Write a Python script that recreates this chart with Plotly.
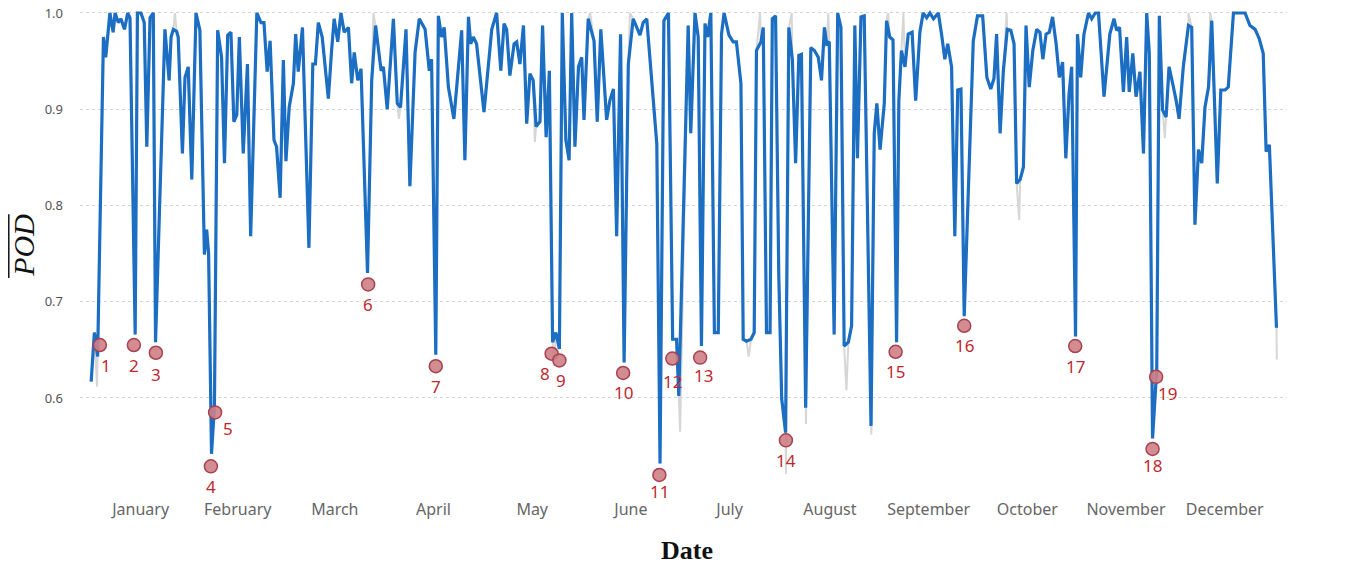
import pandas as pd
import plotly.graph_objects as go

# ---- data -----------------------------------------------------------------
# smoothed daily POD (day of year, value)
pod_days = [
    0.2, 1.2, 2.2, 4.0, 4.7, 5.5, 6.0, 7.0, 7.6, 8.6, 9.4, 10.5, 11.5, 12.2, 13.8,
    14.5, 15.6, 16.6, 17.4, 18.4, 19.4, 20.1, 23.0, 24.3, 24.9, 25.6, 26.6, 27.1,
    28.4, 29.2, 30.2, 31.3, 32.6, 33.8, 35.2, 35.9, 36.5, 37.4, 38.3, 39.3, 40.5,
    41.4, 42.4, 43.4, 44.3, 45.2, 46.0, 47.2, 48.5, 49.5, 51.4, 52.7, 53.6, 54.6,
    55.5, 56.7, 57.5, 58.6, 59.6, 60.4, 61.4, 62.7, 63.4, 64.2, 65.5, 67.5, 68.7,
    69.5, 70.4, 71.6, 73.5, 74.5, 75.3, 76.4, 77.4, 78.4, 79.7, 80.7, 81.5, 82.6,
    83.6, 85.6, 86.9, 88.1, 89.8, 90.5, 91.7, 93.6, 94.8, 95.8, 97.5, 98.7, 100.3,
    101.6, 103.4, 104.7, 105.4, 106.7, 107.5, 108.5, 109.3, 110.6, 112.3, 114.7,
    115.7, 116.8, 117.5, 118.3, 119.3, 121.6, 124.0, 125.5, 126.8, 127.8, 128.6,
    129.6, 130.9, 131.7, 132.7, 133.8, 134.8, 135.8, 136.8, 137.7, 138.9, 139.7,
    140.8, 141.8, 142.8, 143.8, 144.9, 145.8, 146.9, 147.9, 148.7, 149.7, 150.8,
    151.8, 152.5, 153.8, 155.6, 156.6, 157.7, 159.5, 160.5, 161.6, 162.6, 163.8,
    164.9, 166.2, 167.7, 169.8, 170.8, 171.9, 175.0, 176.0, 177.2, 178.6, 179.9,
    181.1, 181.8, 184.7, 185.5, 186.8, 187.8, 188.8, 189.9, 190.7, 191.7, 192.8,
    194.0, 195.0, 195.8, 197.3, 198.6, 199.6, 201.0, 201.7, 202.7, 204.1, 205.1,
    205.8, 207.2, 207.9, 208.9, 210.0, 210.7, 211.7, 212.7, 213.6, 214.8, 215.8,
    216.9, 217.9, 218.9, 219.7, 221.0, 222.6, 223.7, 224.9, 225.9, 226.8, 227.5,
    228.3, 229.8, 230.9, 231.9, 232.9, 234.2, 235.2, 236.2, 237.0, 238.1, 239.1,
    241.2, 242.2, 243.0, 244.0, 245.3, 246.0, 247.0, 248.0, 249.1, 249.8, 250.6,
    251.7, 252.7, 253.9, 255.0, 256.3, 257.3, 258.4, 259.4, 260.5, 262.0, 263.0,
    264.0, 264.9, 266.1, 267.1, 268.0, 269.0, 270.0, 272.8, 274.1, 275.7, 277.0,
    278.2, 279.2, 280.0, 281.1, 282.1, 283.3, 284.4, 285.4, 286.2, 287.3, 288.3,
    289.1, 290.1, 291.2, 292.4, 293.4, 294.3, 295.3, 296.3, 297.3, 298.4, 299.4,
    300.4, 301.4, 302.4, 303.2, 304.4, 305.0, 306.0, 307.0, 308.4, 309.4, 310.5,
    311.5, 313.2, 315.0, 316.3, 317.1, 318.0, 319.2, 320.2, 321.0, 322.1, 323.1,
    324.3, 325.4, 326.4, 327.2, 328.2, 329.5, 330.3, 331.3, 332.4, 333.3, 334.4,
    335.5, 336.4, 337.7, 339.3, 340.3, 341.3, 342.4, 343.4, 344.4, 345.5, 346.5,
    348.2, 349.3, 350.6, 351.6, 353.2, 356.8, 358.3, 359.9, 361.2, 362.4, 363.3,
    364.3, 366.5,
]
pod_values = [
    0.617, 0.668, 0.643, 0.975, 0.954, 0.980, 1.000, 0.980, 1.000, 0.990, 0.994, 0.983, 1.000, 0.995, 0.666,
    1.000, 1.000, 0.990, 0.861, 0.995, 1.000, 0.658, 0.983, 0.930, 0.975, 0.983, 0.981, 0.975,
    0.854, 0.933, 0.944, 0.827, 1.000, 0.982, 0.749, 0.775, 0.750, 0.542, 0.592, 0.982, 0.954,
    0.844, 0.977, 0.980, 0.887, 0.894, 0.975, 0.854, 0.947, 0.768, 1.000, 0.990, 0.990, 0.939,
    0.971, 0.868, 0.861, 0.808, 0.951, 0.846, 0.902, 0.927, 0.978, 0.939, 0.985, 0.756, 0.947,
    0.947, 0.990, 0.975, 0.911, 0.961, 0.994, 0.970, 1.000, 0.980, 0.985, 0.927, 0.959, 0.930,
    0.942, 0.730, 0.930, 0.987, 0.940, 0.944, 0.900, 0.994, 0.906, 0.902, 0.983, 0.820, 0.959,
    0.994, 0.983, 0.940, 0.952, 0.645, 0.997, 0.975, 0.985, 0.923, 0.890, 0.982,
    0.847, 0.996, 0.968, 0.975, 0.968, 0.897, 0.983, 1.000, 0.940, 0.989, 0.983,
    0.935, 0.968, 0.970, 0.947, 0.987, 0.885, 0.937, 0.930, 0.882, 0.887, 0.987,
    0.871, 0.940, 0.658, 0.668, 0.651, 1.000, 0.868, 0.847, 1.000, 0.861, 0.944,
    0.954, 0.889, 0.994, 0.971, 0.887, 0.983, 0.889, 0.909, 0.921, 0.768, 0.978,
    0.637, 0.947, 0.994, 0.977, 0.990, 0.994, 0.864, 0.532, 0.992, 1.000, 0.661,
    0.661, 0.602, 0.987, 0.875, 1.000, 0.975, 0.654, 0.989, 0.975, 1.000, 0.668,
    0.668, 0.978, 1.000, 0.977, 0.970, 0.970, 0.927, 0.661, 0.659, 0.661, 0.668,
    0.961, 0.970, 0.985, 0.668, 0.668, 0.994, 0.997, 0.727, 0.599, 0.564, 0.985,
    0.951, 0.844, 0.956, 0.957, 0.590, 0.964, 0.961, 0.954, 0.930, 0.985, 0.968,
    0.970, 0.666, 1.000, 0.985, 0.654, 0.658, 0.675, 0.987, 0.849, 0.996, 0.997,
    0.571, 0.875, 0.906, 0.858, 0.906, 0.992, 0.975, 0.972, 0.658, 0.909, 0.961,
    0.944, 0.978, 0.980, 0.909, 0.980, 1.000, 0.995, 1.000, 0.994, 1.000, 0.978,
    0.952, 0.968, 0.944, 0.768, 0.920, 0.921, 0.685, 0.971, 0.997, 0.997, 0.933,
    0.921, 0.932, 0.978, 0.875, 0.940, 0.983, 0.982, 0.968, 0.823, 0.827, 0.840,
    0.987, 0.923, 0.961, 0.983, 0.980, 0.952, 0.978, 0.980, 0.996, 0.968, 0.933,
    0.949, 0.849, 0.916, 0.944, 0.664, 0.978, 0.933, 0.978, 1.000, 0.994, 1.000,
    1.000, 0.913, 0.978, 0.994, 0.982, 0.985, 0.918, 0.975, 0.918, 0.958, 0.913,
    0.939, 0.854, 1.000, 0.958, 0.558, 0.630, 0.997, 0.899, 0.892, 0.944, 0.927,
    0.909, 0.890, 0.944, 0.987, 0.985, 0.780, 0.858, 0.844, 0.902, 0.923, 0.992,
    0.823, 0.920, 0.920, 0.923, 1.000, 1.000, 0.987, 0.983, 0.973, 0.958, 0.856,
    0.863, 0.673,
]

# raw (unsmoothed) readings that stray beyond the smoothed curve
raw_extra_days = [2.0, 26.1, 87.4, 95.3, 137.3, 143.3, 154.4, 166.7, 182.2, 203.4,
                  206.9, 214.9, 216.7, 221.1, 228.0, 233.6, 241.3, 246.5, 251.2,
                  283.1, 287.0, 332.0, 339.3, 346.0, 366.6]
raw_extra_values = [0.612, 1.000, 1.000, 0.890, 0.866, 0.633, 1.000, 1.000, 0.565, 0.643,
                    1.000, 0.521, 1.000, 0.573, 1.000, 0.608, 0.562, 1.000, 1.000,
                    1.000, 0.785, 0.870, 1.000, 1.000, 0.640]

# numbered low-POD events
event_ids = list(range(1, 20))
event_days = [2.9, 13.4, 20.2, 37.2, 38.5, 85.8, 106.7, 142.5, 144.9, 164.6,
              175.8, 179.8, 188.4, 214.9, 248.8, 270.0, 304.3, 328.2, 329.3]
event_values = [0.655, 0.655, 0.647, 0.529, 0.585, 0.718, 0.633, 0.646, 0.639, 0.626,
                0.520, 0.641, 0.642, 0.556, 0.648, 0.675, 0.654, 0.547, 0.622]

month_names = ["January", "February", "March", "April", "May", "June", "July",
               "August", "September", "October", "November", "December"]
y_ticks = [0.6, 0.7, 0.8, 0.9, 1.0]

# ---- helpers ----------------------------------------------------------------
YEAR_START = pd.Timestamp("2020-01-01")


def to_date(day):
    return YEAR_START + pd.to_timedelta(day, unit="D")


pod_x = [to_date(d) for d in pod_days]

raw_pts = sorted(list(zip(pod_days, pod_values)) + list(zip(raw_extra_days, raw_extra_values)))
raw_x = [to_date(d) for d, _ in raw_pts]
raw_y = [v for _, v in raw_pts]

month_starts = pd.date_range("2020-01-01", "2021-01-01", freq="MS")
month_mid = [a + (b - a) / 2 for a, b in zip(month_starts[:-1], month_starts[1:])]

# label nudges (px) for event numbers
label_dx = {1: 6, 5: 13, 8: -7, 9: 2, 13: 3, 19: 11}
label_dy = {3: -22, 5: -16, 11: -17, 12: -23, 13: -18, 18: -17, 19: -17}

# ---- figure -----------------------------------------------------------------
fig = go.Figure()

fig.add_trace(go.Scatter(
    x=raw_x, y=raw_y, mode="lines",
    line=dict(color="#d6d6d6", width=2),
    hoverinfo="skip", showlegend=False,
))
fig.add_trace(go.Scatter(
    x=pod_x, y=pod_values, mode="lines",
    line=dict(color="#1b6ec2", width=3.2),
    name="POD", showlegend=False,
))
fig.add_trace(go.Scatter(
    x=[to_date(d) for d in event_days], y=event_values, mode="markers",
    marker=dict(size=13, color="rgba(205,128,134,0.9)",
                line=dict(color="#a8424e", width=1.5)),
    showlegend=False,
))

for eid, d, v in zip(event_ids, event_days, event_values):
    fig.add_annotation(
        x=to_date(d), y=v, text=str(eid), showarrow=False,
        xshift=label_dx.get(eid, 0), yshift=label_dy.get(eid, -20),
        font=dict(family="Noto Sans", size=17, color="#c0282e"),
    )

# axis titles
fig.add_annotation(
    xref="paper", yref="paper", x=0.5025, y=-0.114, text="<b>Date</b>",
    showarrow=False, xanchor="center", yanchor="middle",
    font=dict(family="Liberation Serif", size=26, color="#111"),
)
fig.add_annotation(
    xref="paper", yref="paper", x=-0.0475, y=0.51, text="<i>POD</i>",
    showarrow=False, textangle=-90, xanchor="center", yanchor="middle",
    font=dict(family="Liberation Serif", size=30, color="#111"),
)
fig.add_shape(
    type="line", xref="paper", yref="paper",
    x0=-0.0590, x1=-0.0590, y0=0.443, y1=0.573,
    line=dict(color="#111", width=1.5),
)

fig.update_layout(
    width=1346, height=568,
    margin=dict(l=80, r=59, t=5, b=73),
    paper_bgcolor="white", plot_bgcolor="white",
    xaxis=dict(
        range=[to_date(-3.245), to_date(369.75)],
        tickvals=month_mid, ticktext=month_names,
        showgrid=False, zeroline=False, showline=False, ticks="",
        tickfont=dict(family="Noto Sans", size=16, color="#666"),
        ticklabelstandoff=3,
    ),
    yaxis=dict(
        range=[0.4992, 1.0083],
        tickvals=y_ticks, ticktext=[f"{t:.1f}" for t in y_ticks],
        showgrid=True, gridcolor="#d4d4d4", griddash="dot", gridwidth=1,
        zeroline=False, showline=False, ticks="",
        tickfont=dict(family="Noto Sans", size=13, color="#555"),
        ticklabelstandoff=16,
    ),
)

fig.write_html("out.html")
